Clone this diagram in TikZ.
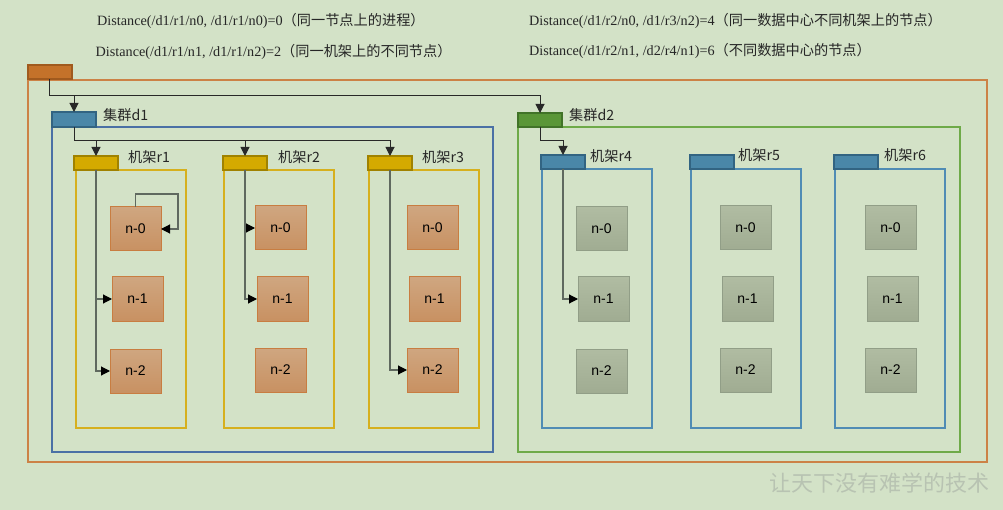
\documentclass[tikz,border=0pt]{standalone}
\usepackage{fontspec}
\setmainfont{Liberation Serif}
\newfontfamily\cjk{Noto Sans CJK SC}
\newfontfamily\arialf{Liberation Sans}
\usetikzlibrary{arrows.meta,calc}
\definecolor{bg}{RGB}{211,226,199}
\definecolor{outerC}{RGB}{204,130,70}
\definecolor{topTab}{RGB}{196,114,42}
\definecolor{topTabD}{RGB}{160,90,30}
\definecolor{dOneC}{RGB}{74,112,165}
\definecolor{blueTab}{RGB}{74,135,168}
\definecolor{blueTabD}{RGB}{50,100,130}
\definecolor{dTwoC}{RGB}{110,170,72}
\definecolor{greenTab}{RGB}{90,150,55}
\definecolor{greenTabD}{RGB}{65,115,40}
\definecolor{yelC}{RGB}{214,176,30}
\definecolor{yelTab}{RGB}{212,170,0}
\definecolor{yelTabD}{RGB}{160,130,0}
\definecolor{rackB}{RGB}{80,140,180}
\definecolor{onTop}{RGB}{207,166,128}
\definecolor{onBot}{RGB}{200,145,98}
\definecolor{onBd}{RGB}{200,125,65}
\definecolor{gnTop}{RGB}{176,188,162}
\definecolor{gnBot}{RGB}{160,172,146}
\definecolor{gnBd}{RGB}{145,158,135}
\definecolor{lineC}{RGB}{40,40,40}
\definecolor{inLine}{RGB}{95,105,95}
\definecolor{wmark}{RGB}{184,195,178}
\begin{document}
\begin{tikzpicture}[x=1pt,y=-1pt,
  box/.style={anchor=north west, inner sep=0pt, outer sep=0pt},
  frame/.style={box, line width=1.6pt},
  tab/.style={box, line width=1.2pt, minimum width=44pt, minimum height=14pt},
  rackframe/.style={frame, minimum width=110pt, minimum height=258pt},
  onode/.style={box, draw=onBd, line width=1pt, top color=onTop, bottom color=onBot,
     minimum width=51pt, minimum height=44pt, font=\arialf\fontsize{14}{16}\selectfont},
  gnode/.style={box, draw=gnBd, line width=1pt, top color=gnTop, bottom color=gnBot,
     minimum width=51pt, minimum height=44pt, font=\arialf\fontsize{14}{16}\selectfont},
  lbl/.style={anchor=west, inner sep=0pt, font=\cjk\fontsize{14.2}{16}\selectfont, text=black!85},
  dist/.style={anchor=west, inner sep=0pt, font=\fontsize{14.2}{16}\selectfont, text=black!85},
  arr/.style={draw=lineC, line width=1pt, -{Triangle[length=9pt,width=9pt]}},
  iarr/.style={draw=inLine, line width=1.1pt, -{Triangle[length=9pt,width=9pt,color=black]}}
]
\fill[bg] (0,0) rectangle (1003,510);
\useasboundingbox (0,0) rectangle (1003,510);

% texts
\node[dist] (t1) at (97,21) {Distance(/d1/r1/n0, /d1/r1/n0)=0{\cjk（同一节点上的进程）}};
\node[dist] (t2) at (95.5,51.5) {Distance(/d1/r1/n1, /d1/r1/n2)=2{\cjk（同一机架上的不同节点）}};
\node[dist] (t3) at (529,20.5) {Distance(/d1/r2/n0, /d1/r3/n2)=4{\cjk（同一数据中心不同机架上的节点）}};
\node[dist] (t4) at (529,51) {Distance(/d1/r2/n1, /d2/r4/n1)=6{\cjk（不同数据中心的节点）}};

% outer
\node[frame, draw=outerC, minimum width=959pt, minimum height=382pt] (outer) at (28,80) {};
\node[tab, draw=topTabD, fill=topTab] (top) at (28,65) {};

% d1
\node[frame, draw=dOneC, minimum width=441pt, minimum height=325pt] (d1f) at (52,127) {};
\node[tab, draw=blueTabD, fill=blueTab, minimum height=15pt] (d1) at (52,112) {};
\node[lbl] (d1l) at (103,115) {集群d1};

% d2
\node[frame, draw=dTwoC, minimum width=442pt, minimum height=325pt] (d2f) at (518,127) {};
\node[tab, draw=greenTabD, fill=greenTab] (d2) at (518,113) {};
\node[lbl] (d2l) at (569,115) {集群d2};

% racks d1
\node[rackframe, draw=yelC] (r1f) at (76,170) {};
\node[rackframe, draw=yelC] (r2f) at (224,170) {};
\node[rackframe, draw=yelC] (r3f) at (369,170) {};
\node[tab, draw=yelTabD, fill=yelTab] (r1) at (74,156) {};
\node[tab, draw=yelTabD, fill=yelTab] (r2) at (223,156) {};
\node[tab, draw=yelTabD, fill=yelTab] (r3) at (368,156) {};
\node[lbl] (r1l) at (128,157) {机架r1};
\node[lbl] (r2l) at (278,157) {机架r2};
\node[lbl] (r3l) at (422,157) {机架r3};

% racks d2
\node[rackframe, draw=rackB, minimum height=259pt] (r4f) at (542,169) {};
\node[rackframe, draw=rackB, minimum height=259pt] (r5f) at (691,169) {};
\node[rackframe, draw=rackB, minimum height=259pt] (r6f) at (835,169) {};
\node[tab, draw=blueTabD, fill=blueTab] (r4) at (541,155) {};
\node[tab, draw=blueTabD, fill=blueTab] (r5) at (690,155) {};
\node[tab, draw=blueTabD, fill=blueTab] (r6) at (834,155) {};
\node[lbl] (r4l) at (590,156) {机架r4};
\node[lbl] (r5l) at (738,155) {机架r5};
\node[lbl] (r6l) at (884,155) {机架r6};

% nodes
\node[onode] (r1n0) at (110,207) {n-0};
\node[onode] (r1n1) at (112,277) {n-1};
\node[onode] (r1n2) at (110,349) {n-2};
\node[onode] (r2n0) at (255,206) {n-0};
\node[onode] (r2n1) at (257,277) {n-1};
\node[onode] (r2n2) at (255,348) {n-2};
\node[onode] (r3n0) at (407,206) {n-0};
\node[onode] (r3n1) at (409,277) {n-1};
\node[onode] (r3n2) at (407,348) {n-2};
\node[gnode] (r4n0) at (576,207) {n-0};
\node[gnode] (r4n1) at (578,277) {n-1};
\node[gnode] (r4n2) at (576,349) {n-2};
\node[gnode] (r5n0) at (720,206) {n-0};
\node[gnode] (r5n1) at (722,277) {n-1};
\node[gnode] (r5n2) at (720,348) {n-2};
\node[gnode] (r6n0) at (865,206) {n-0};
\node[gnode] (r6n1) at (867,277) {n-1};
\node[gnode] (r6n2) at (865,348) {n-2};

% connectors
\coordinate (bus0) at (49,96);
\coordinate (bus1) at (74,141);
\coordinate (bus2) at (540,141);
\coordinate (loopc) at (178,194);
\draw[arr] (top.south -| bus0) -- (bus0) -| (d2.north);
\draw[arr] (d1.north |- bus0) -- (d1.north);
\draw[arr] (d1.south) -- (bus1) -| (r3.north);
\draw[arr] (r1.north |- bus1) -- (r1.north);
\draw[arr] (r2.north |- bus1) -- (r2.north);
\draw[arr] (d2.south) -- (bus2) -| (r4.north);

\draw[iarr] (r1.south) |- (r1n1.west);
\draw[iarr] (r1.south) |- (r1n2.west);
\draw[iarr] (r1n0.north) |- (loopc) |- (r1n0.east);
\draw[iarr] (r2.south) |- (r2n0.west);
\draw[iarr] (r2.south) |- (r2n1.west);
\draw[iarr] (r3.south) |- (r3n2.west);
\draw[iarr] (r4.south) |- (r4n1.west);

% watermark
\node[anchor=center, inner sep=0pt, font=\cjk\fontsize{22}{24}\selectfont, text=wmark] (wm) at (879,483) {让天下没有难学的技术};
\end{tikzpicture}
\end{document}
